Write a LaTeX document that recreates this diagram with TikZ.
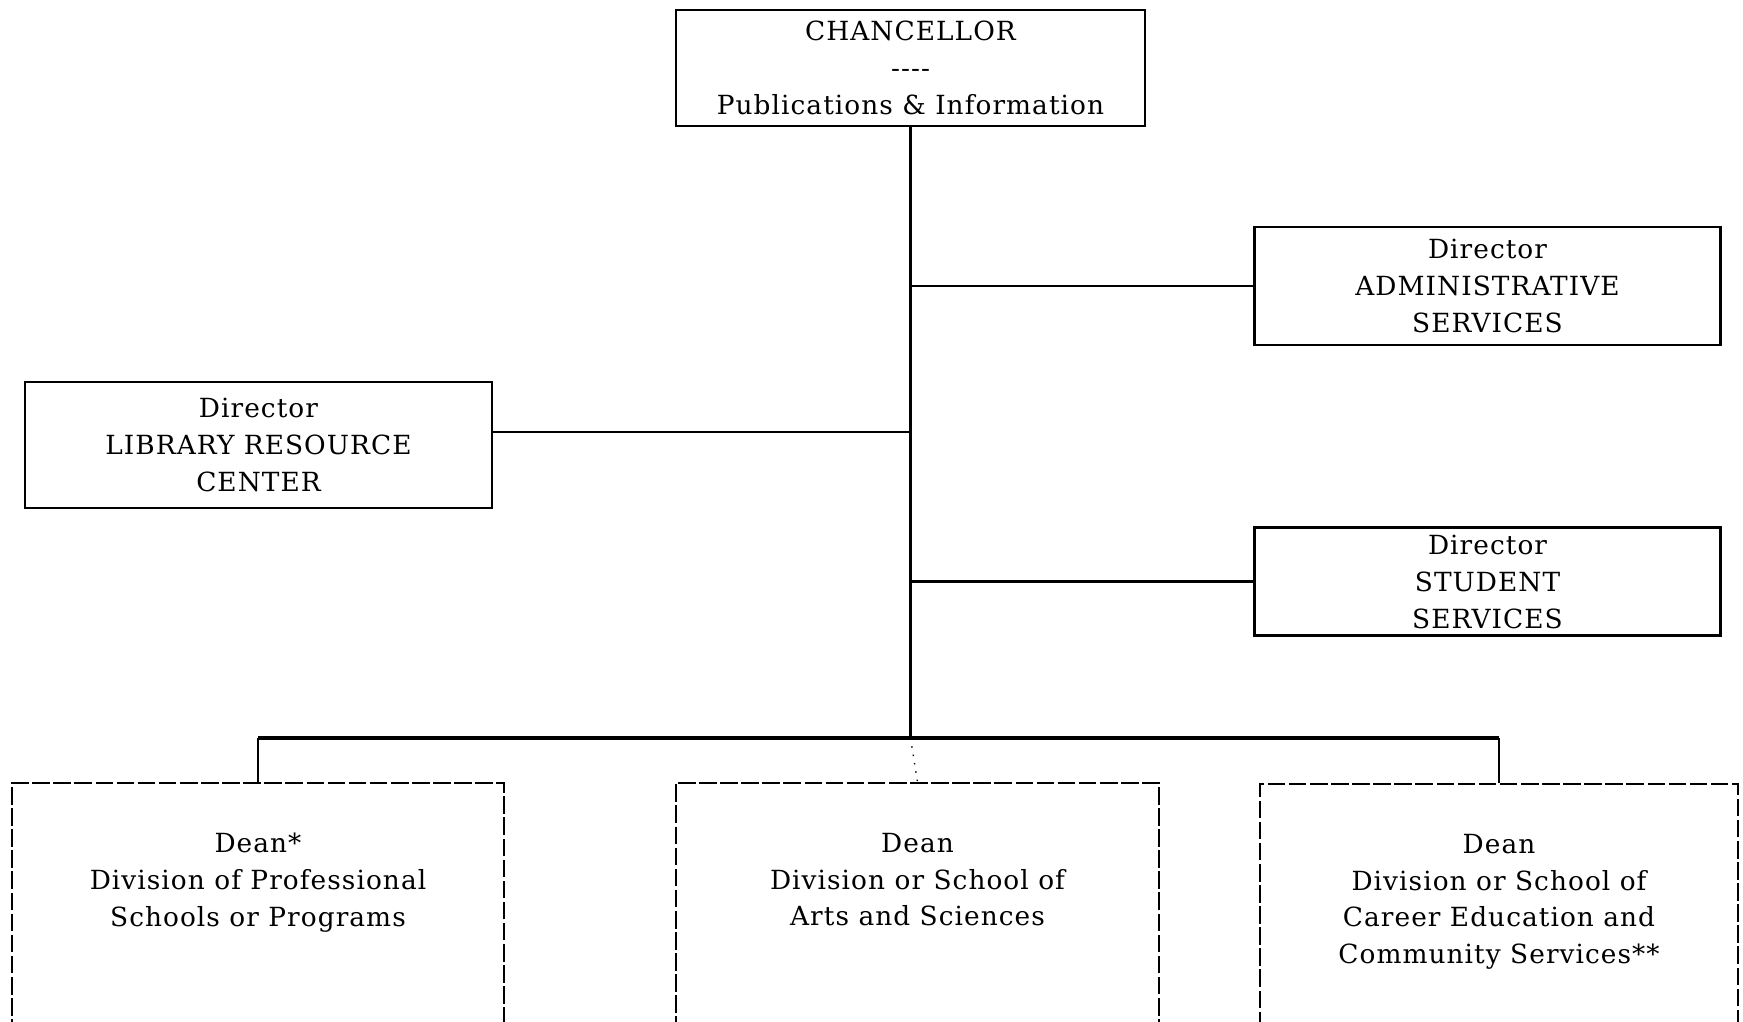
\documentclass[tikz,border=0pt]{standalone}
\usepackage{fontspec}
\setmainfont[LetterSpace=4]{DejaVu Serif}
\usepackage{tikz}
\usetikzlibrary{positioning}
\tikzstyle{office} = [rectangle, draw=black, line width=0.7pt, align=center, minimum width=4.66cm, inner sep=0pt]
\tikzstyle{deanbox} = [rectangle, draw=black, line width=0.5pt, dash pattern=on 5pt off 1pt, align=center, anchor=north, inner ysep=0.5cm, text depth=4cm]
\tikzstyle{link} = [line width=0.7pt]

\begin{document}
\begin{tikzpicture}[x=0.01cm, y=0.01cm, font=\fontsize{7.5}{10.5}\selectfont]
    \useasboundingbox (0,0) rectangle (1743,1021);
    \clip (0,0) rectangle (1743,1021);

    \node (chan) [office, minimum width=4.69cm, minimum height=1.16cm] at (910.5,953) {CHANCELLOR\\-{}-{}-{}-\\Publications \& Information};
    \node (admin) [office, minimum height=1.18cm] at (1487.5,735) {Director\\ADMINISTRATIVE\\SERVICES};
    \node (stud) [office, minimum height=1.08cm, below=1.8cm of admin] {Director\\STUDENT\\SERVICES};
    \node (lib) [office, minimum width=4.67cm, minimum height=1.26cm] at (258.5,576) {Director\\LIBRARY RESOURCE\\CENTER};

    \node (dean1) [deanbox, minimum width=4.92cm] at (258,239) {Dean*\\Division of Professional\\Schools or Programs};
    \node (dean2) [deanbox, minimum width=4.83cm] at (917.5,239) {Dean\\Division or School of\\Arts and Sciences};
    \node (dean3) [deanbox, minimum width=4.78cm] at (1499,238) {Dean\\Division or School of\\Career Education and\\Community Services**};

    % trunk and branches
    \coordinate (split) at (chan.south |- 0,283);
    \coordinate (jlib) at (chan.south |- 0,589);
    \draw [link] (chan.south) -- (split);
    \draw [link] (admin.west -| chan.south) -- (admin.west);
    \draw [link] (stud.west -| chan.south) -- (stud.west);
    \draw [link] (jlib) -- (jlib -| lib.east);

    % deans
    \draw [link, line width=0.9pt] (split -| dean1.north) -- (split -| dean3.north);
    \draw [link] (split -| dean1.north) -- (dean1.north);
    \draw [link] (split -| dean3.north) -- (dean3.north);
    \draw [thin, dotted] (split) -- (dean2.north);
\end{tikzpicture}
\end{document}
